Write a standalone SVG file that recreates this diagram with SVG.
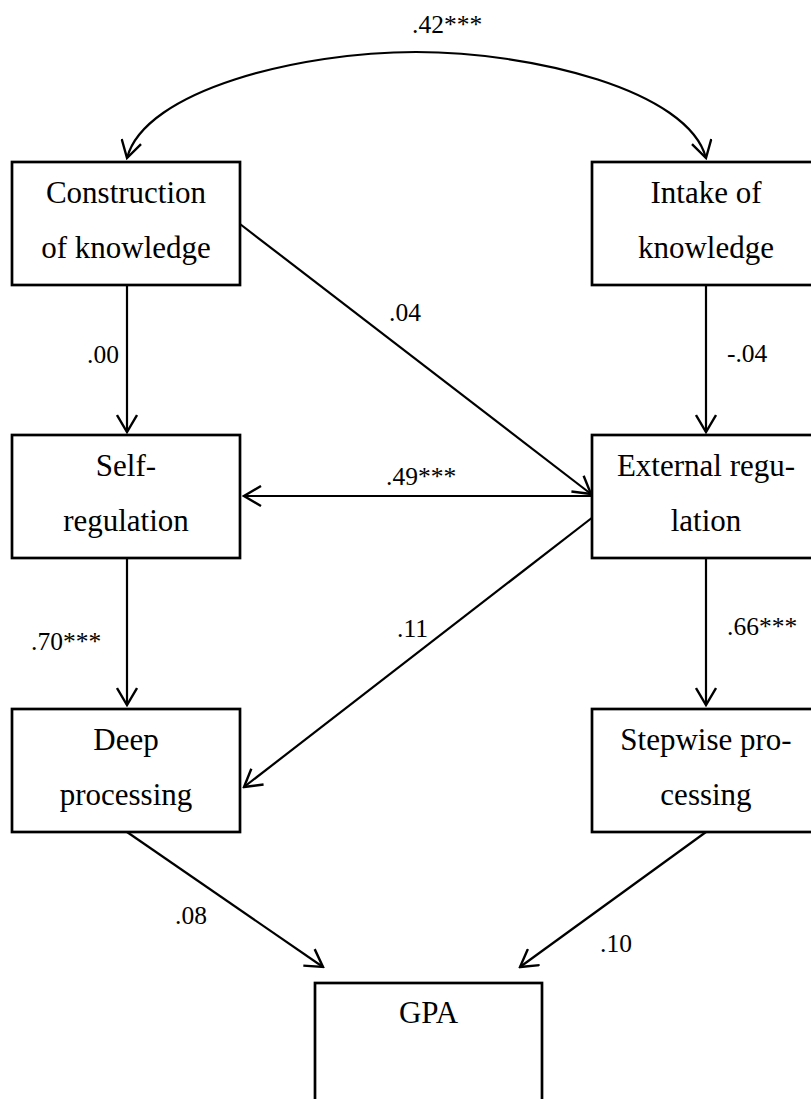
<svg xmlns="http://www.w3.org/2000/svg" width="811" height="1099" viewBox="0 0 811 1099">
<style>
.box{fill:#fff;stroke:#000;stroke-width:2.7}
.node{font-family:"Liberation Serif","Times New Roman",serif;font-size:31px;text-anchor:middle;fill:#000}
.lbl{font-family:"Liberation Serif","Times New Roman",serif;font-size:25.5px;fill:#000}
.edge{fill:none;stroke:#000;stroke-width:2.2;marker-end:url(#arr)}
</style>
<defs>
<marker id="arr" viewBox="-18 -11 20 22" refX="0" refY="0" markerWidth="20" markerHeight="22" markerUnits="userSpaceOnUse" orient="auto">
<path d="M-17,-10 L0,0 L-17,10" fill="none" stroke="#000" stroke-width="2.4"/>
</marker>
</defs>
<rect width="811" height="1099" fill="#fff"/>
<g id="connectors">
<path class="edge" d="M416,52 C 300,52 145,90 127,158"/>
<path class="edge" d="M416,52 C 532,52 688,90 706,158"/>
<path class="edge" d="M127,285 L127,432"/>
<path class="edge" d="M706,285 L706,432"/>
<path class="edge" d="M240,224 L591,494"/>
<path class="edge" d="M593,496 L244,496"/>
<path class="edge" d="M593,517 L244,787"/>
<path class="edge" d="M127,558 L127,705"/>
<path class="edge" d="M706,558 L706,705"/>
<path class="edge" d="M127,832 L323,967"/>
<path class="edge" d="M706,832 L520,967"/>
</g>
<g id="labels">
<text class="lbl" x="412" y="33">.42***</text>
<text class="lbl" x="389" y="321">.04</text>
<text class="lbl" x="87" y="363">.00</text>
<text class="lbl" x="727" y="362">-.04</text>
<text class="lbl" x="386" y="485">.49***</text>
<text class="lbl" x="31" y="650">.70***</text>
<text class="lbl" x="397" y="637">.11</text>
<text class="lbl" x="727" y="635">.66***</text>
<text class="lbl" x="175" y="924">.08</text>
<text class="lbl" x="600" y="952">.10</text>
</g>
<g id="construction">
<rect class="box" x="12" y="162" width="228" height="123"/>
<text class="node" x="126" y="203">Construction</text>
<text class="node" x="126" y="258">of knowledge</text>
</g>
<g id="intake">
<rect class="box" x="592" y="162" width="228" height="123"/>
<text class="node" x="706" y="203">Intake of</text>
<text class="node" x="706" y="258">knowledge</text>
</g>
<g id="selfreg">
<rect class="box" x="12" y="435" width="228" height="123"/>
<text class="node" x="126" y="476">Self-</text>
<text class="node" x="126" y="531">regulation</text>
</g>
<g id="extreg">
<rect class="box" x="592" y="435" width="228" height="123"/>
<text class="node" x="706" y="476">External regu-</text>
<text class="node" x="706" y="531">lation</text>
</g>
<g id="deep">
<rect class="box" x="12" y="709" width="228" height="123"/>
<text class="node" x="126" y="750">Deep</text>
<text class="node" x="126" y="805">processing</text>
</g>
<g id="stepwise">
<rect class="box" x="592" y="709" width="228" height="123"/>
<text class="node" x="706" y="750">Stepwise pro-</text>
<text class="node" x="706" y="805">cessing</text>
</g>
<g id="gpa">
<rect class="box" x="315" y="983" width="227" height="140"/>
<text class="node" x="428.5" y="1023">GPA</text>
</g>
</svg>
